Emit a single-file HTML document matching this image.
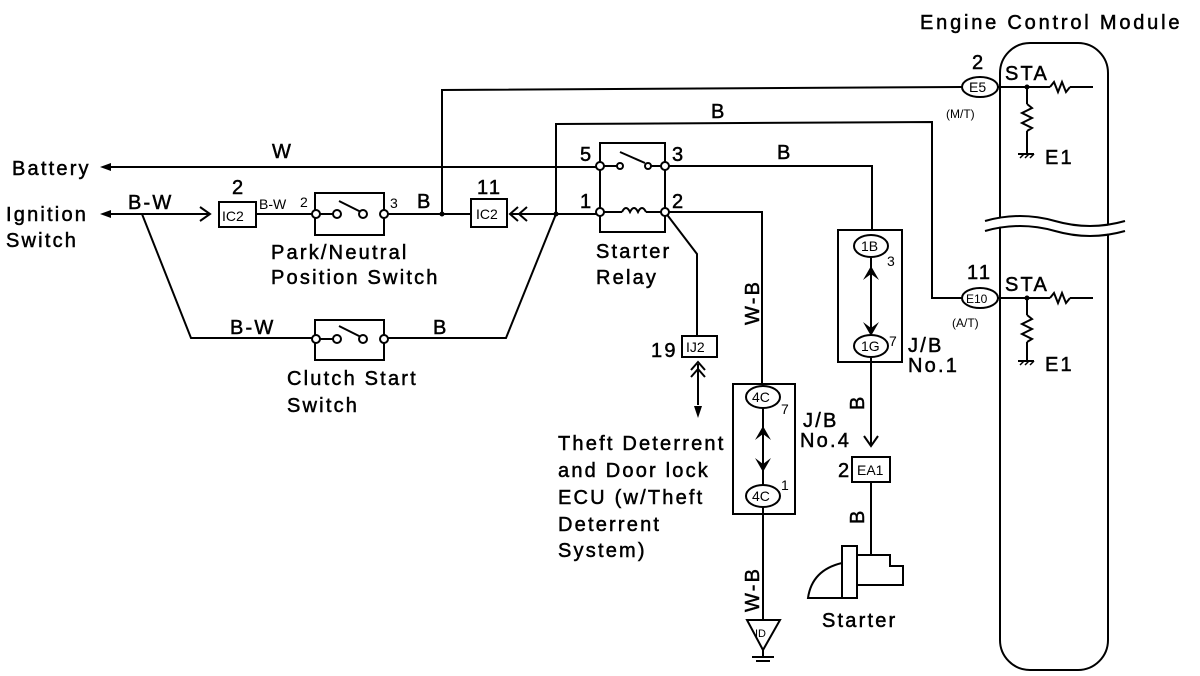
<!DOCTYPE html>
<html><head><meta charset="utf-8"><style>
html,body{margin:0;padding:0;background:#fff;}
svg{display:block;}
text{font-family:"Liberation Sans",Arial,sans-serif;fill:#000;}
</style></head><body>
<svg width="1200" height="676" viewBox="0 0 1200 676" xmlns="http://www.w3.org/2000/svg">
<g stroke="#000" stroke-width="2" fill="none">
<line x1="111" y1="167" x2="598" y2="167"/>
<line x1="111" y1="214" x2="208" y2="214"/>
<polyline points="200,207 210,214 200,221"/>
<rect x="219" y="202" width="37" height="25"/>
<line x1="256" y1="214" x2="313" y2="214"/>
<rect x="315" y="193" width="69" height="42"/>
<line x1="319" y1="214" x2="334" y2="214"/>
<line x1="339" y1="201" x2="361" y2="212"/>
<line x1="387" y1="214" x2="471" y2="214"/>
<polyline points="442,214 442,90 962,87"/>
<rect x="471" y="199" width="36" height="28"/>
<polyline points="518,207 510,214 518,221"/>
<polyline points="527,207 519,214 527,221"/>
<line x1="511" y1="214" x2="597" y2="214"/>
<polyline points="556,214 556,124 932,122 932,298 962,298"/>
<polyline points="142,214 191,338 313,338"/>
<polyline points="387,338 506,338 556,214"/>
<rect x="315" y="320" width="69" height="40"/>
<line x1="319" y1="339" x2="334" y2="339"/>
<line x1="339" y1="326" x2="361" y2="337"/>
<polyline points="600,162 600,143 665,143 665,162"/>
<line x1="600" y1="170" x2="600" y2="208"/>
<line x1="665" y1="170" x2="665" y2="208"/>
<polyline points="600,216 600,232 665,232 665,216"/>
<line x1="604" y1="166" x2="617" y2="166"/>
<line x1="620" y1="152" x2="645" y2="163"/>
<line x1="651" y1="166" x2="661" y2="166"/>
<line x1="604" y1="212" x2="622" y2="212"/>
<path d="M622,212 q4,-8 8,0 q4,-8 8,0 q4,-8 8,0"/>
<line x1="646" y1="212" x2="661" y2="212"/>
<polyline points="669,166 872,166 872,230"/>
<rect x="838" y="230" width="64" height="132"/>
<ellipse cx="871" cy="246" rx="17" ry="11"/>
<ellipse cx="871" cy="346" rx="17" ry="11"/>
<line x1="871" y1="258" x2="871" y2="334"/>
<line x1="871" y1="358" x2="871" y2="445"/>
<polyline points="864,436 871,446 878,436"/>
<rect x="852" y="457" width="38" height="25"/>
<line x1="871" y1="482" x2="871" y2="555"/>
<path d="M808,598 q4,-28 34,-35 l0,35 z"/>
<rect x="842" y="546" width="15" height="52"/>
<polyline points="857,555 890,555 890,566 903,566 903,585 857,585"/>
<polyline points="669,212 762,212 762,384"/>
<polyline points="665,212 697,254 697,336"/>
<rect x="682" y="336" width="35" height="21"/>
<polyline points="691,370 698,362 705,370"/>
<polyline points="691,377 698,369 705,377"/>
<line x1="698" y1="364" x2="698" y2="405"/>
<rect x="733" y="384" width="62" height="130"/>
<ellipse cx="763" cy="397" rx="17" ry="11"/>
<ellipse cx="763" cy="496" rx="17" ry="11"/>
<line x1="763" y1="408" x2="763" y2="485"/>
<line x1="763" y1="507" x2="763" y2="620"/>
<polygon points="747,620 780,620 763,650"/>
<line x1="763" y1="650" x2="763" y2="656"/>
<line x1="752" y1="657" x2="774" y2="657"/>
<line x1="756" y1="661" x2="770" y2="661"/>
<rect x="1000" y="43" width="108" height="627" rx="30"/>
<ellipse cx="980" cy="87" rx="18" ry="10"/>
<ellipse cx="980" cy="298" rx="18" ry="10"/>
<line x1="998" y1="87" x2="1050" y2="87"/>
<path d="M1050,87 l4,-5 l4,10 l4,-10 l4,10 l4,-5"/>
<line x1="1070" y1="87" x2="1093" y2="87"/>
<line x1="1027" y1="87" x2="1027" y2="104"/>
<path d="M1027,104 l5,4 l-10,5 l10,5 l-10,5 l10,5 l-5,3"/>
<line x1="1027" y1="131" x2="1027" y2="153"/>
<line x1="998" y1="298" x2="1050" y2="298"/>
<path d="M1050,298 l4,-5 l4,10 l4,-10 l4,10 l4,-5"/>
<line x1="1070" y1="298" x2="1093" y2="298"/>
<line x1="1027" y1="298" x2="1027" y2="315"/>
<path d="M1027,315 l5,4 l-10,5 l10,5 l-10,5 l10,5 l-5,3"/>
<line x1="1027" y1="342" x2="1027" y2="360"/>
<line x1="1018" y1="154" x2="1034" y2="154"/>
<line x1="1018" y1="361" x2="1034" y2="361"/>
</g>
<g stroke="#fff" stroke-width="8" fill="none"><path d="M985,226 q35,-10 70,0 t70,0"/></g>
<g stroke="#000" stroke-width="2" fill="none">
<path d="M985,221 q35,-10 70,0 t70,0"/><path d="M985,231 q35,-10 70,0 t70,0"/>
</g>
<g fill="#000">
<path d="M100,167 l11,-4 l0,8 z"/><path d="M100,214 l11,-4 l0,8 z"/>
<circle cx="442" cy="214" r="2.5"/><circle cx="556" cy="214" r="2.5"/>
<circle cx="1027" cy="87" r="2.5"/><circle cx="1027" cy="298" r="2.5"/>
<path d="M698,418 l-4,-12 l8,0 z"/>
<path d="M863,280 l8,-14 l8,14 l-8,-6 z"/><path d="M863,322 l8,14 l8,-14 l-8,6 z"/>
<path d="M755,440 l8,-14 l8,14 l-8,-6 z"/><path d="M755,458 l8,14 l8,-14 l-8,6 z"/>
</g>
<g fill="#fff" stroke="#000" stroke-width="2">
<circle cx="316" cy="214" r="4"/><circle cx="337" cy="214" r="4"/><circle cx="363" cy="214" r="4"/><circle cx="384" cy="214" r="4"/>
<circle cx="316" cy="339" r="4"/><circle cx="337" cy="339" r="4"/><circle cx="363" cy="339" r="4"/><circle cx="384" cy="339" r="4"/>
<circle cx="600" cy="166" r="4"/><circle cx="665" cy="166" r="4"/><circle cx="600" cy="212" r="4"/><circle cx="665" cy="212" r="4"/>
<circle cx="620" cy="166" r="3"/><circle cx="648" cy="166" r="3"/>
</g>
<g stroke="#000" stroke-width="1.5">
<line x1="1020" y1="158" x2="1024" y2="154"/><line x1="1025" y1="158" x2="1029" y2="154"/><line x1="1030" y1="158" x2="1034" y2="154"/>
<line x1="1020" y1="365" x2="1024" y2="361"/><line x1="1025" y1="365" x2="1029" y2="361"/><line x1="1030" y1="365" x2="1034" y2="361"/>
</g>
<g font-size="20" letter-spacing="2.2" stroke="#000" stroke-width="0.5">
<text x="12" y="175">Battery</text>
<text x="6" y="221">Ignition</text>
<text x="6" y="247">Switch</text>
<text x="128" y="209">B-W</text>
<text x="272" y="158">W</text>
<text x="232" y="194">2</text>
<text x="417" y="208">B</text>
<text x="477" y="194">11</text>
<text x="271" y="259">Park/Neutral</text>
<text x="271" y="284">Position Switch</text>
<text x="230" y="334">B-W</text>
<text x="433" y="334">B</text>
<text x="287" y="385">Clutch Start</text>
<text x="287" y="412">Switch</text>
<text x="711" y="118">B</text>
<text x="777" y="159">B</text>
<text x="580" y="161">5</text>
<text x="672" y="161">3</text>
<text x="580" y="208">1</text>
<text x="672" y="208">2</text>
<text x="596" y="258">Starter</text>
<text x="596" y="284">Relay</text>
<text x="651" y="357">19</text>
<text x="558" y="450">Theft Deterrent</text>
<text x="558" y="477">and Door lock</text>
<text x="558" y="504">ECU (w/Theft</text>
<text x="558" y="531">Deterrent</text>
<text x="558" y="557">System)</text>
<text x="803" y="427">J/B</text>
<text x="800" y="447">No.4</text>
<text x="908" y="352">J/B</text>
<text x="908" y="372">No.1</text>
<text x="838" y="477">2</text>
<text x="822" y="627">Starter</text>
<text x="920" y="29" letter-spacing="2.8">Engine Control Module</text>
<text x="972" y="69">2</text>
<text x="967" y="279">11</text>
<text x="1005" y="80">STA</text>
<text x="1005" y="291">STA</text>
<text x="1045" y="164">E1</text>
<text x="1045" y="371">E1</text>
<text transform="translate(759,325) rotate(-90)">W-B</text>
<text transform="translate(759,612) rotate(-90)">W-B</text>
<text transform="translate(864,410) rotate(-90)">B</text>
<text transform="translate(864,524) rotate(-90)">B</text>
</g>
<g font-size="14">
<text x="259" y="209">B-W</text>
<text x="300" y="207">2</text>
<text x="390" y="208">3</text>
<text x="222" y="221">IC2</text>
<text x="476" y="219">IC2</text>
<text x="686" y="352">IJ2</text>
<text x="857" y="475">EA1</text>
<text x="861" y="251">1B</text>
<text x="861" y="351">1G</text>
<text x="752" y="402">4C</text>
<text x="752" y="501">4C</text>
<text x="887" y="266">3</text>
<text x="889" y="346">7</text>
<text x="781" y="414">7</text>
<text x="781" y="490">1</text>
<text x="755" y="637" font-size="11">ID</text>
<text x="969" y="92">E5</text>
<text x="966" y="303" font-size="12">E10</text>
<text x="946" y="118" font-size="12">(M/T)</text>
<text x="952" y="327" font-size="12">(A/T)</text>
</g>
</svg>
</body></html>
